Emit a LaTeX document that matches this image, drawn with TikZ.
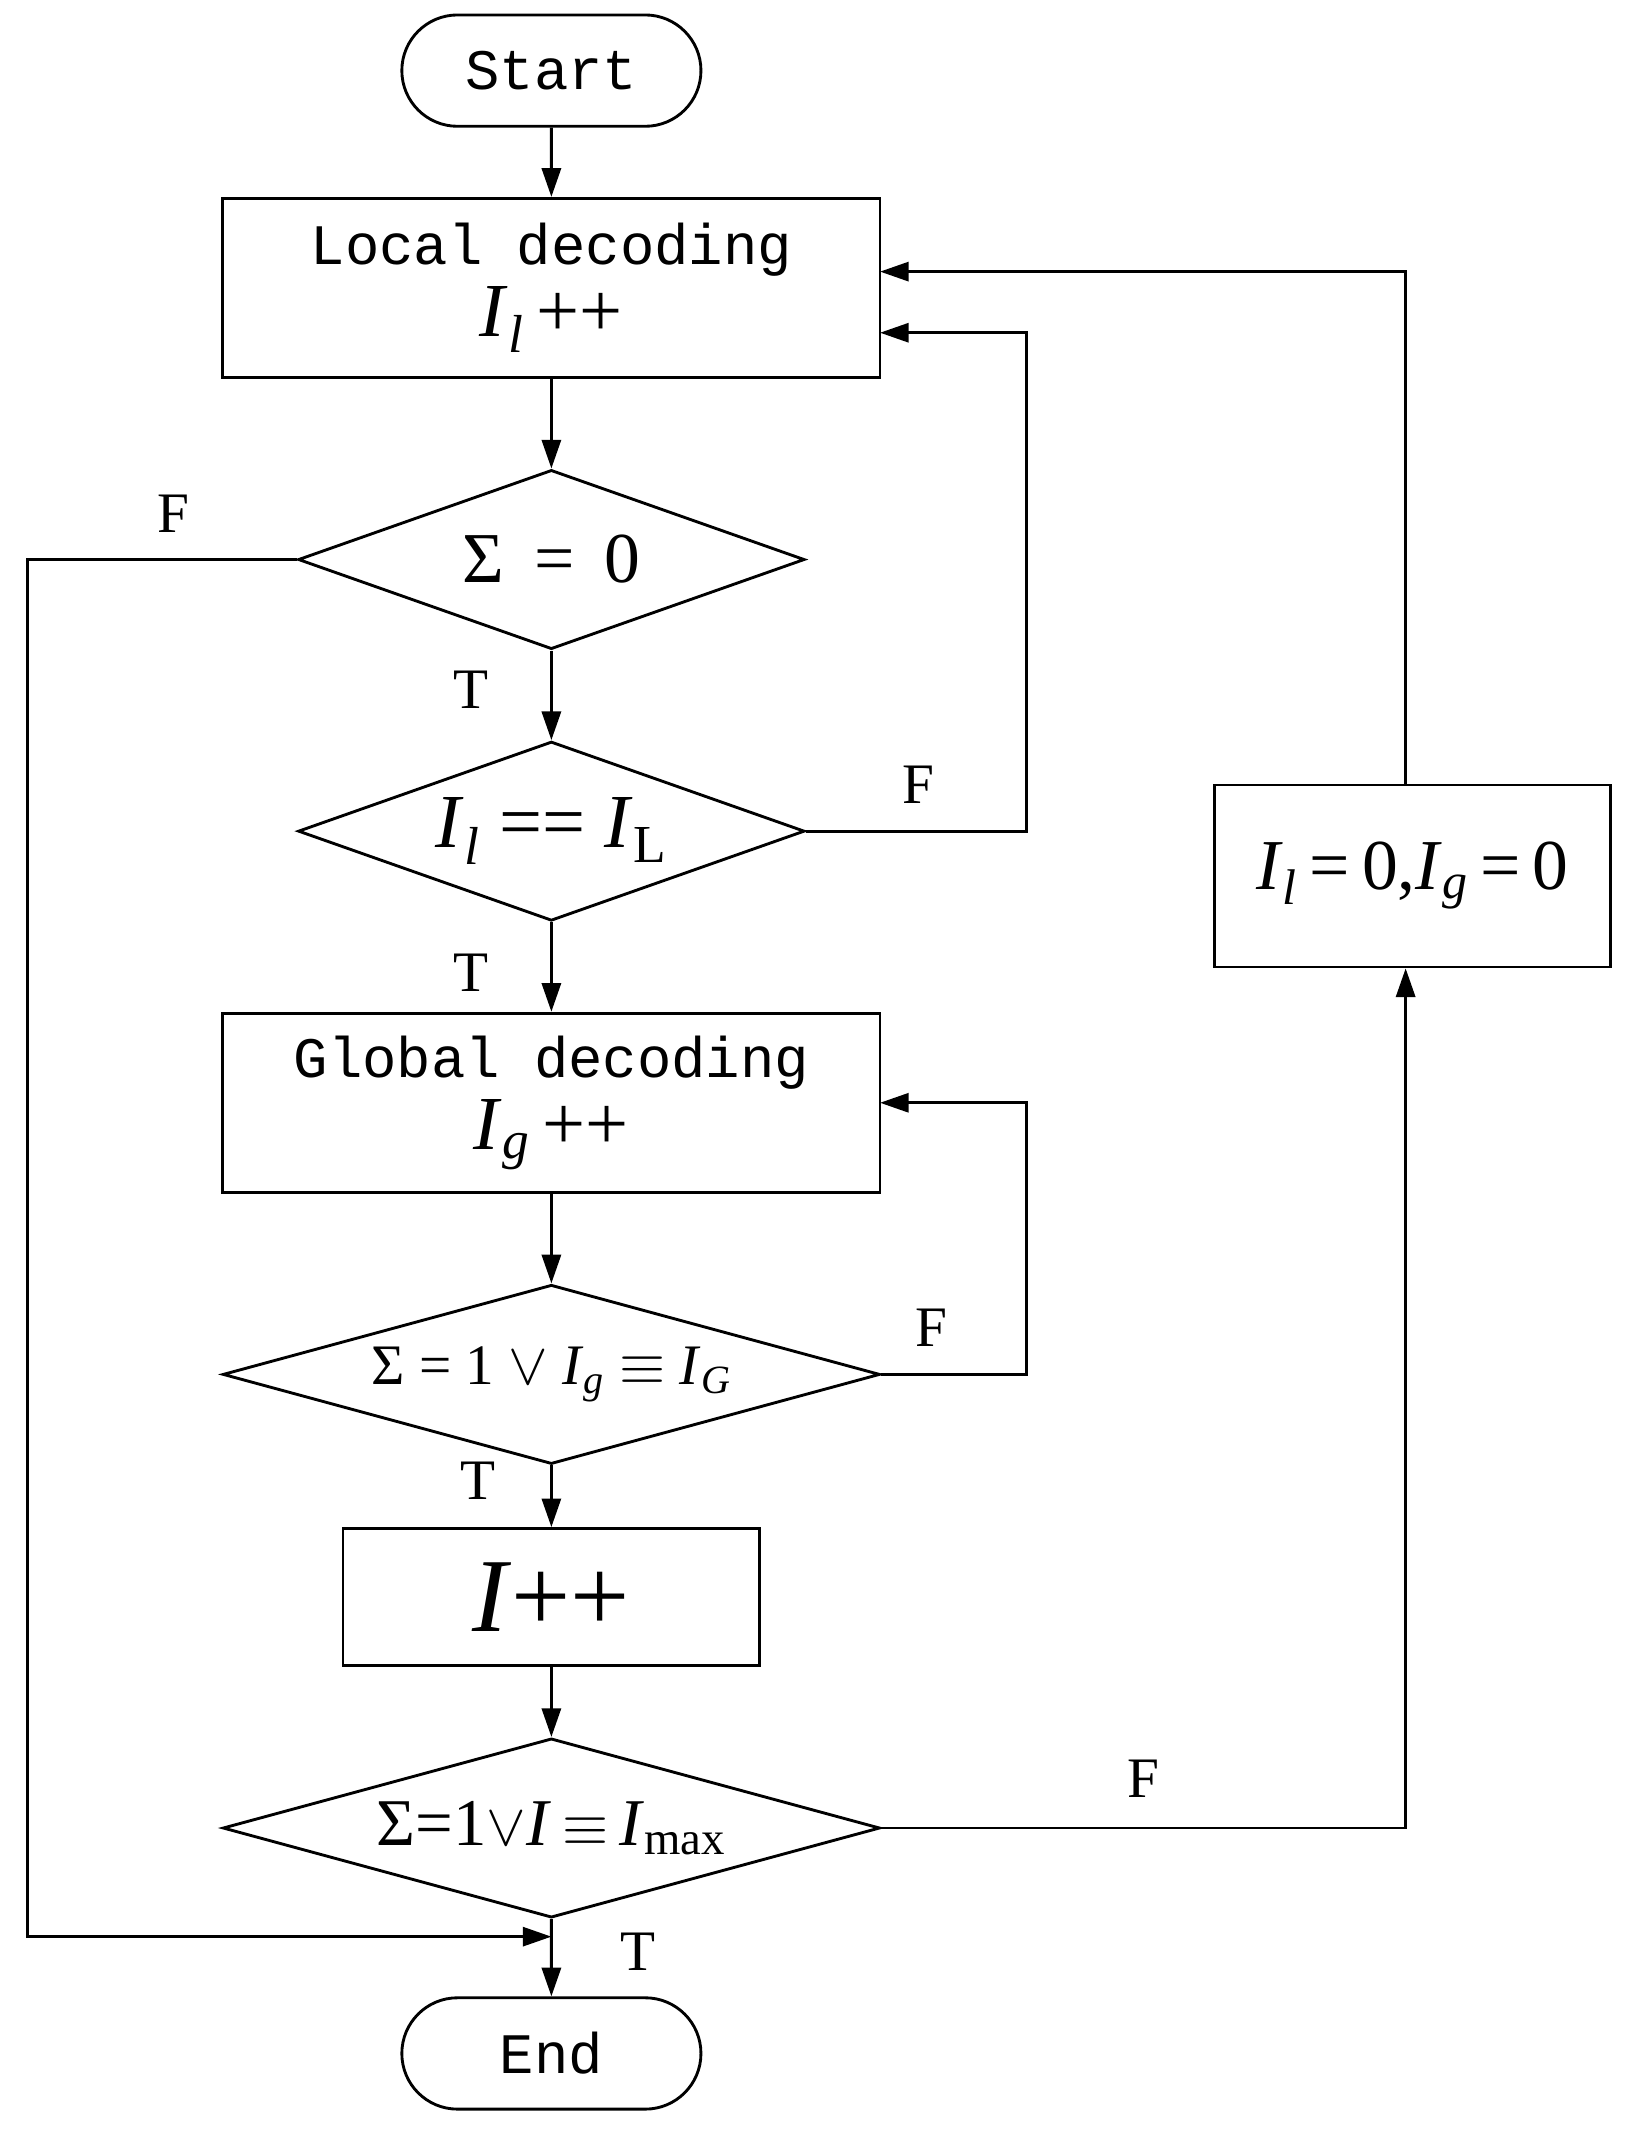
\documentclass[tikz,border=0pt]{standalone}
\usepackage{fontspec}
\setmainfont{Liberation Serif}
\setmonofont{Liberation Mono}
\usetikzlibrary{shapes.geometric,shapes.misc,arrows.meta}
\newcommand{\vI}{\textit{I}}
\begin{document}
\begin{tikzpicture}[x=0.02cm, y=-0.02cm, line width=1.2pt,
  every node/.style={font=\fontsize{24}{28}\selectfont},
  term/.style={draw, rounded rectangle, minimum width=4.64cm, minimum height=1.64cm, font=\ttfamily\fontsize{24}{28}\selectfont},
  proc/.style={draw, rectangle, align=center, minimum width=9.68cm, minimum height=2.64cm},
  test/.style={draw, diamond, aspect=3, inner sep=0pt, minimum width=7.46cm, minimum height=2.64cm},
  wtest/.style={test, minimum width=9.68cm, aspect=3.6},
  lbl/.style={font=\fontsize{24}{28}\selectfont},
  >={Triangle[length=12pt,width=8pt]}]
\useasboundingbox (0,0) rectangle (1200,1575);
\node[term] (start) at (406,52) {Start};
\node[proc] (local) at (406,212) {\texttt{Local decoding}\\[2pt]\fontsize{32}{36}\selectfont\vI\textsubscript{\textit{l}}\,++};
\node[test] (sum) at (406,412) {\fontsize{30}{34}\selectfont Σ \,=\, 0};
\node[test] (il) at (406,612) {\fontsize{32}{36}\selectfont\vI\textsubscript{\textit{l}} == \vI\textsubscript{L}};
\node[proc] (global) at (406,812) {\texttt{Global decoding}\\[2pt]\fontsize{32}{36}\selectfont\vI\textsubscript{\textit{g}}\,++};
\node[wtest] (ig) at (406,1012) {Σ = 1 $\vee$ \vI\textsubscript{\textit{g}} $\equiv$ \vI\textsubscript{\textit{G}}};
\node[proc, minimum width=6.14cm, minimum height=2.02cm] (inc) at (406,1176) {\fontsize{44}{48}\selectfont\vI++};
\node[wtest] (imax) at (406,1346) {\fontsize{28}{32}\selectfont Σ=1$\vee$\vI\,$\equiv$\,\vI\textsubscript{max}};
\node[term] (end) at (406,1512) {End};
\node[proc, minimum width=5.84cm, minimum height=2.68cm] (reset) at (1040,645) {\fontsize{30}{34}\selectfont\vI\textsubscript{\textit{l}}\,=\,0,\vI\textsubscript{\textit{g}}\,=\,0};
\coordinate (join) at (406,1426);

\draw[->] (start) -- (local);
\draw[->] (local) -- (sum);
\draw[->] (sum) -- (il);
\draw[->] (il) -- (global);
\draw[->] (global) -- (ig);
\draw[->] (ig) -- (inc);
\draw[->] (inc) -- (imax);
\draw[->] (imax) -- (end);
\draw[->] (il.east) -- (756,612) -- (756,245) -- (648,245);
\draw[->] (ig.east) -- (756,1012) -- (756,812) -- (648,812);
\draw[->] (imax.east) -- (1035,1346) -- (reset.south -| 1035,0);
\draw[->] (reset.north -| 1035,0) -- (1035,200) -- (648,200);
\draw[->] (sum.west) -- (20,412) -- (20,1426) -- (join);

\node[lbl] at (128,378) {F};
\node[lbl] at (347,508) {T};
\node[lbl] at (676,578) {F};
\node[lbl] at (347,716) {T};
\node[lbl] at (686,978) {F};
\node[lbl] at (352,1090) {T};
\node[lbl] at (842,1310) {F};
\node[lbl] at (470,1437) {T};
\end{tikzpicture}
\end{document}
